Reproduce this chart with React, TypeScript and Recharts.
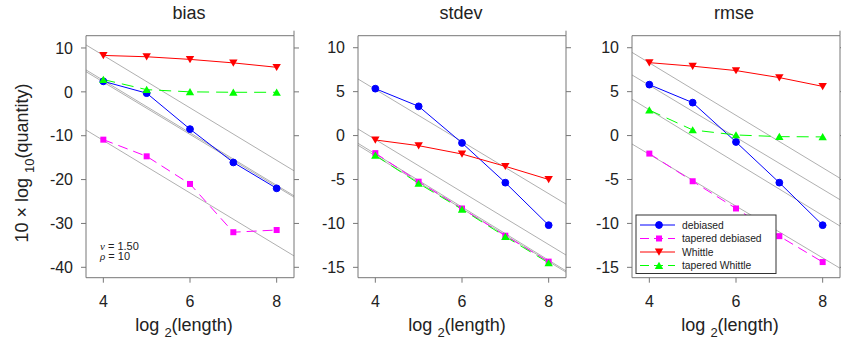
import React from "react";
import { LineChart, Line, XAxis, YAxis, ReferenceLine } from "recharts";

// x positions (log2 of length)
const logLength = [4, 5, 6, 7, 8];

// bias panel
const biasDebiased = [2.4, -0.3, -8.5, -16.1, -22.0];
const biasTaperedDebiased = [-10.9, -14.7, -21.0, -32.0, -31.5];
const biasWhittle = [8.3, 8.0, 7.4, 6.6, 5.6];
const biasTaperedWhittle = [2.8, 0.5, 0.0, -0.1, -0.1];
// gray guide lines: [value at left edge, value at right edge]
const biasGuides = [
  [10.7, -18.0],
  [5.0, -23.7],
  [4.6, -24.0],
  [-8.7, -37.4],
];

// stdev panel
const stdevDebiased = [5.34, 3.33, -0.84, -5.36, -10.2];
const stdevTaperedDebiased = [-2.0, -5.25, -8.3, -11.4, -14.35];
const stdevWhittle = [-0.5, -1.15, -2.1, -3.5, -5.0];
const stdevTaperedWhittle = [-2.25, -5.45, -8.4, -11.5, -14.5];
const stdevGuides = [
  [6.44, -7.8],
  [0.75, -13.6],
  [-0.88, -15.4],
  [-1.1, -15.55],
];

// rmse panel
const rmseDebiased = [5.8, 3.75, -0.73, -5.36, -10.2];
const rmseTaperedDebiased = [-2.05, -5.2, -8.3, -11.45, -14.4];
const rmseWhittle = [8.3, 7.9, 7.4, 6.6, 5.6];
const rmseTaperedWhittle = [2.9, 0.64, 0.07, -0.12, -0.15];
const rmseGuides = [
  [9.47, -4.86],
  [6.9, -7.3],
  [4.13, -10.3],
  [-0.96, -15.1],
];

const xDomain: [number, number] = [3.6, 8.4];
const xTicks = [4, 6, 8];
const biasTicks = [-40, -30, -20, -10, 0, 10];
const sdTicks = [-15, -10, -5, 0, 5, 10];

const SERIES = [
  { key: "deb", name: "debiased", color: "#0000ff", dash: undefined, shape: "circle" },
  { key: "tdeb", name: "tapered debiased", color: "#ff00ff", dash: "10 6", shape: "square" },
  { key: "wh", name: "Whittle", color: "#ff0000", dash: undefined, shape: "down" },
  { key: "twh", name: "tapered Whittle", color: "#00ff00", dash: "12 7", shape: "up" },
];

const FONT = "'Liberation Sans', Arial, Helvetica, sans-serif";
const BOX = "#777";

function marker(shape: string, cx: number, cy: number, color: string, key?: any) {
  if (shape === "circle") return <circle key={key} cx={cx} cy={cy} r={3.4} fill={color} stroke={color} />;
  if (shape === "square") return <rect key={key} x={cx - 3} y={cy - 3} width={6} height={6} fill={color} />;
  if (shape === "down")
    return <polygon key={key} points={`${cx - 4.2},${cy - 3.4} ${cx + 4.2},${cy - 3.4} ${cx},${cy + 3.8}`} fill={color} />;
  return <polygon key={key} points={`${cx - 4.2},${cy + 3.4} ${cx + 4.2},${cy + 3.4} ${cx},${cy - 3.8}`} fill={color} />;
}

function makeRows(deb: number[], tdeb: number[], wh: number[], twh: number[]) {
  return logLength.map((x, i) => ({ x, deb: deb[i], tdeb: tdeb[i], wh: wh[i], twh: twh[i] }));
}

type PanelProps = {
  left: number;
  width: number;
  marginLeft: number;
  rows: any[];
  guides: number[][];
  yDomain: [number, number];
  yTicks: number[];
};

function Panel({ left, width, marginLeft, rows, guides, yDomain, yTicks }: PanelProps) {
  const tickStyle = { fontSize: 16, fill: "#222", fontFamily: FONT };
  return (
    <div style={{ position: "absolute", left, top: 0 }}>
      <LineChart
        width={width}
        height={341}
        data={rows}
        margin={{ top: 30.7, right: width - marginLeft - 40 - 208 - 5, bottom: 33.3, left: marginLeft }}
      >
        <XAxis
          xAxisId="b"
          dataKey="x"
          type="number"
          domain={xDomain}
          ticks={xTicks}
          allowDataOverflow
          height={30}
          tickSize={5}
          tickMargin={13}
          tick={tickStyle}
          stroke={BOX}
        />
        <XAxis
          xAxisId="t"
          orientation="top"
          type="number"
          domain={xDomain}
          ticks={xTicks}
          allowDataOverflow
          height={5}
          tickSize={5}
          tickFormatter={() => ""}
          stroke={BOX}
        />
        <YAxis
          yAxisId="l"
          type="number"
          domain={yDomain}
          ticks={yTicks}
          allowDataOverflow
          width={40}
          tickSize={5}
          tickMargin={8}
          tick={tickStyle}
          stroke={BOX}
        />
        <YAxis
          yAxisId="r"
          orientation="right"
          type="number"
          domain={yDomain}
          ticks={yTicks}
          allowDataOverflow
          width={5}
          tickSize={5}
          tickFormatter={() => ""}
          stroke={BOX}
        />
        {guides.map((g, i) => (
          <ReferenceLine
            key={"g" + i}
            xAxisId="b"
            yAxisId="l"
            segment={[
              { x: xDomain[0], y: g[0] },
              { x: xDomain[1], y: g[1] },
            ]}
            stroke="#b0b0b0"
            strokeWidth={1}
          />
        ))}
        {SERIES.map((s) => (
          <Line
            key={s.key}
            xAxisId="b"
            yAxisId="l"
            dataKey={s.key}
            stroke={s.color}
            strokeWidth={1}
            strokeDasharray={s.dash}
            isAnimationActive={false}
            dot={(p: any) => marker(s.shape, p.cx, p.cy, s.color, p.index)}
            activeDot={false}
          />
        ))}
      </LineChart>
    </div>
  );
}

function Overlay() {
  const titles = [
    { t: "bias", x: 189 },
    { t: "stdev", x: 461 },
    { t: "rmse", x: 734 },
  ];
  const xLabelCenters = [184, 457, 730];
  const legendRows = [225, 238.5, 252, 265.5];
  return (
    <svg width={841} height={341} style={{ position: "absolute", left: 0, top: 0, pointerEvents: "none" }}>
      <g fontFamily={FONT} fill="#222">
        {titles.map((d) => (
          <text key={d.t} x={d.x} y={18.5} fontSize={18} textAnchor="middle">
            {d.t}
          </text>
        ))}
        {xLabelCenters.map((cx) => (
          <text key={cx} x={cx} y={331} fontSize={18} textAnchor="middle">
            log <tspan dy={6} fontSize={13}>2</tspan>
            <tspan dy={-6}>(length)</tspan>
          </text>
        ))}
        <text transform="translate(28,163) rotate(-90)" fontSize={18} textAnchor="middle">
          10 × log <tspan dy={6} fontSize={13}>10</tspan>
          <tspan dy={-6}>(quantity)</tspan>
        </text>
        <text x={100} y={249.5} fontSize={11}>
          <tspan fontFamily="'Liberation Serif', serif" fontStyle="italic">ν</tspan> = 1.50
        </text>
        <text x={100} y={260} fontSize={11}>
          <tspan fontFamily="'Liberation Serif', serif" fontStyle="italic">ρ</tspan> = 10
        </text>
      </g>
      <rect x={636} y={215} width={140} height={58.5} fill="#fff" stroke="#333" strokeWidth={1} />
      {SERIES.map((s, i) => (
        <g key={s.key}>
          <line x1={640} x2={675} y1={legendRows[i]} y2={legendRows[i]} stroke={s.color} strokeDasharray={s.dash ? "9 5" : undefined} />
          {marker(s.shape, 659, legendRows[i], s.color)}
          <text x={682} y={legendRows[i] + 3.6} fontSize={10.3} fontFamily={FONT} fill="#222">
            {s.name}
          </text>
        </g>
      ))}
    </svg>
  );
}

export default function App() {
  return (
    <div style={{ position: "absolute", left: 0, top: 0, width: 841, height: 341, overflow: "hidden", background: "#fff" }}>
      <Panel
        left={0}
        width={300}
        marginLeft={46}
        rows={makeRows(biasDebiased, biasTaperedDebiased, biasWhittle, biasTaperedWhittle)}
        guides={biasGuides}
        yDomain={[-42.37, 12.8]}
        yTicks={biasTicks}
      />
      <Panel
        left={290}
        width={290}
        marginLeft={28}
        rows={makeRows(stdevDebiased, stdevTaperedDebiased, stdevWhittle, stdevTaperedWhittle)}
        guides={stdevGuides}
        yDomain={[-16.18, 11.37]}
        yTicks={sdTicks}
      />
      <Panel
        left={570}
        width={280}
        marginLeft={22}
        rows={makeRows(rmseDebiased, rmseTaperedDebiased, rmseWhittle, rmseTaperedWhittle)}
        guides={rmseGuides}
        yDomain={[-16.18, 11.37]}
        yTicks={sdTicks}
      />
      <Overlay />
    </div>
  );
}
